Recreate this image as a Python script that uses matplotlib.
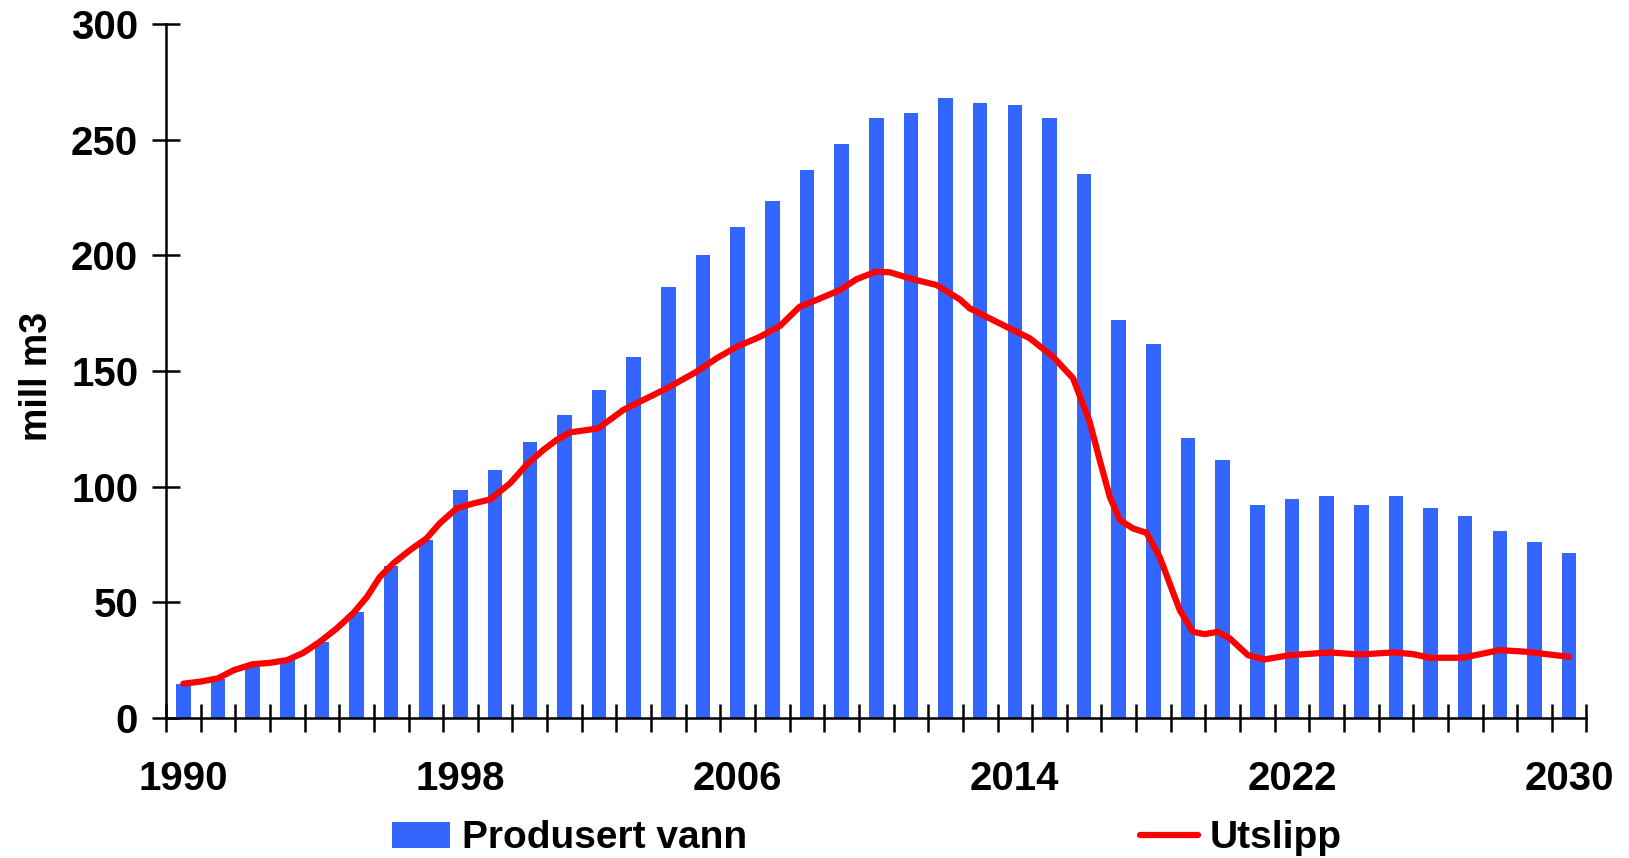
import numpy as np
import matplotlib
matplotlib.use("Agg")
import matplotlib.pyplot as plt
from matplotlib.ticker import FixedLocator, NullFormatter

plt.rcParams['font.family'] = ['Liberation Sans', 'DejaVu Sans']
plt.rcParams['font.weight'] = 'bold'

# data
years = list(range(1990, 2031))
produsert_vann = [14.7, 17.0, 22.2, 25.1, 33.0, 46.0, 65.7, 77.0, 98.6, 107.2,
                  119.3, 131.0, 141.8, 156.1, 186.3, 200.2, 212.3, 223.5, 236.9, 248.2,
                  259.4, 261.6, 268.1, 265.9, 265.0, 259.4, 235.2, 172.1, 161.7, 121.0,
                  111.5, 92.1, 94.7, 96.0, 92.1, 96.0, 90.8, 87.3, 80.8, 76.1, 71.3]

utslipp_x = [1990.0, 1990.5, 1991.0, 1991.45, 1992.0, 1992.5, 1993.0, 1993.46, 1993.94, 1994.43,
             1994.9, 1995.3, 1995.67, 1996.06, 1996.54, 1997.02, 1997.4, 1997.89, 1998.37, 1998.85,
             1999.43, 1999.9, 2000.39, 2000.77, 2001.16, 2001.97, 2002.7, 2003.18, 2003.95, 2004.81,
             2005.39, 2005.97, 2006.64, 2007.22, 2007.79, 2008.27, 2008.95, 2009.43, 2010.0, 2010.39,
             2011.06, 2011.74, 2012.41, 2012.7, 2013.47, 2014.43, 2015.1, 2015.68, 2016.16, 2016.45,
             2016.74, 2017.03, 2017.41, 2017.8, 2018.18, 2018.47, 2018.76, 2019.14, 2019.48, 2019.86,
             2020.2, 2020.73, 2021.21, 2021.93, 2023.08, 2023.95, 2024.91, 2025.49, 2025.97, 2026.93,
             2027.99, 2028.76, 2030.0]
utslipp = [14.9, 15.8, 17.2, 20.7, 23.3, 23.9, 25.1, 28.2, 33.0, 38.8,
           45.3, 52.4, 61.0, 66.9, 72.6, 77.7, 84.2, 90.7, 92.8, 94.5,
           101.5, 109.4, 115.9, 120.2, 123.5, 125.2, 133.2, 136.8, 142.5, 149.7,
           155.5, 160.5, 164.8, 169.5, 177.8, 180.7, 185.0, 189.7, 193.0, 192.7,
           189.7, 187.2, 181.0, 177.1, 171.3, 164.2, 156.2, 146.9, 128.1, 111.5,
           95.7, 85.6, 82.0, 80.1, 69.7, 58.2, 46.7, 37.3, 36.3, 37.3,
           34.5, 27.2, 25.4, 27.2, 28.4, 27.5, 28.4, 27.7, 26.1, 26.1,
           29.4, 28.7, 26.5]

tick_years = [1990, 1998, 2006, 2014, 2022, 2030]
y_ticks = [0, 50, 100, 150, 200, 250, 300]

fig = plt.figure(figsize=(16.29, 8.58), dpi=100)
ax = fig.add_axes([0.1019, 0.163, 0.872, 0.809])

pos = np.arange(len(years))
bars = ax.bar(pos, produsert_vann, width=0.42, color='#3366FF', label='Produsert vann', zorder=2)
line, = ax.plot(np.array(utslipp_x) - years[0], utslipp, color='#FF0000', lw=4.5,
                solid_capstyle='round', solid_joinstyle='round', label='Utslipp', zorder=3)

ax.set_xlim(-0.5, len(years) - 0.5)
ax.set_ylim(0, 300)

for s in ['top', 'right']:
    ax.spines[s].set_visible(False)
for s in ['left', 'bottom']:
    ax.spines[s].set_linewidth(1.8)

# labels at bar centres, tick marks on the boundaries
ax.set_xticks([y - years[0] for y in tick_years])
ax.set_xticklabels([str(y) for y in tick_years])
ax.xaxis.set_minor_locator(FixedLocator(np.arange(-0.5, len(years), 1.0)))
ax.xaxis.set_minor_formatter(NullFormatter())
ax.tick_params(axis='x', which='major', length=0, pad=30, labelsize=29)
ax.tick_params(axis='x', which='minor', direction='inout', length=20, width=1.8)

ax.set_yticks(y_ticks)
ax.tick_params(axis='y', direction='inout', length=20, width=1.8, pad=10, labelsize=29)

ax.set_ylabel('mill m3', fontsize=27, fontweight='bold')
ax.yaxis.set_label_coords(-0.078, 0.493)

fig.legend([bars, line], ['Produsert vann', 'Utslipp'], loc='center',
           bbox_to_anchor=(0.532, 0.023), ncol=2, frameon=False,
           fontsize=28, handlelength=1.5, handleheight=0.65, handletextpad=0.3,
           columnspacing=10.1, borderpad=0)

fig.savefig('out.png', dpi=100)
